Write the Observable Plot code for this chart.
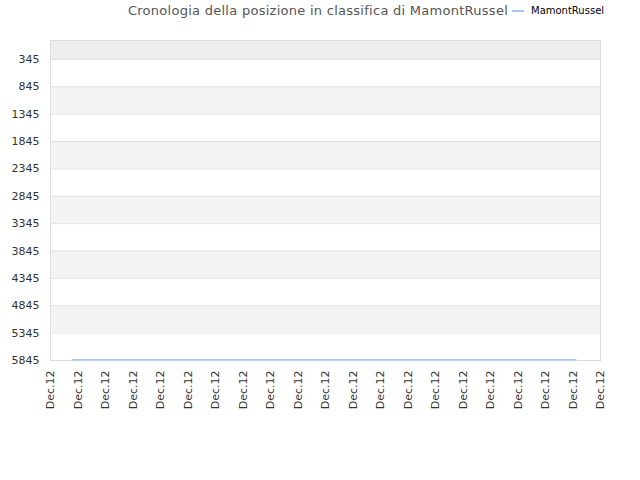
<!DOCTYPE html>
<html>
<head>
<meta charset="utf-8">
<script src="https://cdn.jsdelivr.net/npm/d3@7"></script>
<script src="https://cdn.jsdelivr.net/npm/@observablehq/plot@0.6"></script>
<style>
  body { margin: 0; background: #fff; font-family: "DejaVu Sans", sans-serif; }
  #wrap { position: relative; width: 640px; }
  #head { position: relative; height: 26px; }
  #title { position: absolute; left: 0; width: 636px; top: 3px; text-align: center; font-size: 13px; color: #555; letter-spacing: 0.27px; }
  #legend { position: absolute; left: 512px; top: 5px; font-size: 10px; color: #000; }
  #legend span.sw { display: inline-block; width: 12px; height: 2px; background: #a6c8ee; vertical-align: middle; margin-right: 7px; }
</style>
</head>
<body>
<div id="wrap">
  <div id="head">
    <div id="title">Cronologia della posizione in classifica di MamontRussel</div>
    <div id="legend"><span class="sw"></span>MamontRussel</div>
  </div>
  <div id="chart"></div>
</div>
<script>
const seriesName = "MamontRussel";
const yTicks = [345, 845, 1345, 1845, 2345, 2845, 3345, 3845, 4345, 4845, 5345, 5845];
const xTicks = d3.range(0, 21);
const xTickLabels = xTicks.map(() => "Dec.12");
const pointX = [0.8, 19.1];
const pointRank = [5830, 5830];

const data = pointX.map((x, i) => ({x, rank: pointRank[i]}));
const bandEdges = [0, ...yTicks];
const bands = bandEdges.slice(0, -1).map((y1, i) => ({y1, y2: bandEdges[i + 1], i}));

const chart = Plot.plot({
  width: 640,
  height: 454,
  marginTop: 14,
  marginBottom: 120,
  marginLeft: 50,
  marginRight: 40,
  style: {fontFamily: "DejaVu Sans, sans-serif", fontSize: "11px", color: "#333", background: "#fff"},
  x: {domain: [0, 20], ticks: xTicks, tickFormat: (d, i) => xTickLabels[i], tickRotate: -90, tickSize: 0, tickPadding: 10, label: null},
  y: {domain: [0, 5845], reverse: true, ticks: yTicks, tickFormat: d => String(d), tickSize: 0, tickPadding: 11, label: null},
  marks: [
    Plot.rect(bands, {x1: 0, x2: 20, y1: "y1", y2: "y2", fill: d => d.i === 0 ? "#eeeeee" : (d.i % 2 === 0 ? "#f3f3f3" : "#ffffff")}),
    Plot.ruleY(yTicks, {stroke: "#e2e2e2"}),
    Plot.frame({stroke: "#dddddd"}),
    Plot.line(data, {x: "x", y: "rank", stroke: "#a6c8ee", strokeWidth: 1.5})
  ]
});
document.getElementById("chart").appendChild(chart);
</script>
</body>
</html>
